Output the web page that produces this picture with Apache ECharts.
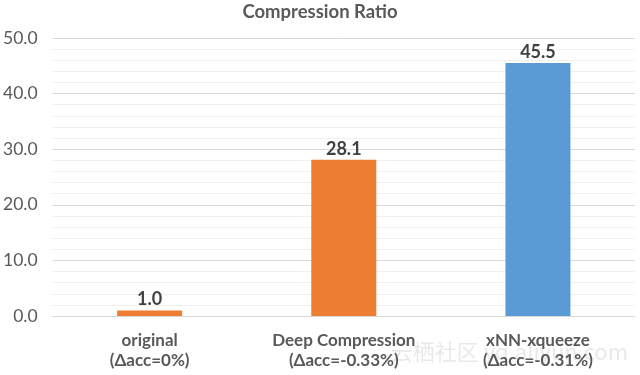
<!DOCTYPE html>
<html>
<head>
<meta charset="utf-8">
<script src="https://cdn.jsdelivr.net/npm/echarts@6/dist/echarts.min.js"></script>
<style>html,body{margin:0;padding:0;background:#fff}#c{width:640px;height:375px}</style>
</head>
<body>
<div id="c"></div>
<script>
const categories = ['original\n(Δacc=0%)', 'Deep Compression\n(Δacc=-0.33%)', 'xNN-xqueeze\n(Δacc=-0.31%)'];
const values = [1.0, 28.1, 45.5];
const barColors = ['#ED7D31', '#ED7D31', '#5B9BD5'];
const titleText = 'Compression Ratio';

const chart = echarts.init(document.getElementById('c'), null, {renderer: 'canvas'});
chart.setOption({
  animation: false,
  backgroundColor: '#fff',
  title: {
    text: titleText, left: 'center', top: -2,
    textStyle: {fontFamily: 'Lato', fontSize: 18.5, fontWeight: 'bold', color: '#595959'}
  },
  grid: {left: 52, right: 5, top: 38, bottom: 59, containLabel: false},
  xAxis: {
    type: 'category', data: categories,
    axisLine: {show: true, lineStyle: {color: '#d9d9d9', width: 1}},
    axisTick: {show: false},
    axisLabel: {fontFamily: 'Lato', fontSize: 17, fontWeight: 'bold', color: '#595959', lineHeight: 20, margin: 15}
  },
  yAxis: {
    type: 'value', min: 0, max: 50, interval: 10,
    axisLine: {show: false}, axisTick: {show: false},
    axisLabel: {fontFamily: 'Lato', fontSize: 17.5, color: '#595959', margin: 15,
      formatter: v => v.toFixed(1)},
    splitLine: {lineStyle: {color: '#d9d9d9', width: 1}},
    minorTick: {show: false, splitNumber: 5},
    minorSplitLine: {show: true, lineStyle: {color: '#f0f0f0', width: 1}}
  },
  series: [{
    type: 'bar', barWidth: 65,
    data: values.map((v, i) => ({value: v, itemStyle: {color: barColors[i]}})),
    label: {show: true, position: 'top', distance: 2, fontFamily: 'Lato', fontSize: 18, fontWeight: 'bold', color: '#404040',
      formatter: p => p.value.toFixed(1)}
  }],
  graphic: [{
    type: 'text', right: 12, bottom: 12, silent: true,
    style: {text: '云栖社区 yq.aliyun.com', fontFamily: 'Noto Sans CJK SC', fontSize: 22, fill: 'rgba(200,200,200,0.4)'}
  }]
});
</script>
</body>
</html>
